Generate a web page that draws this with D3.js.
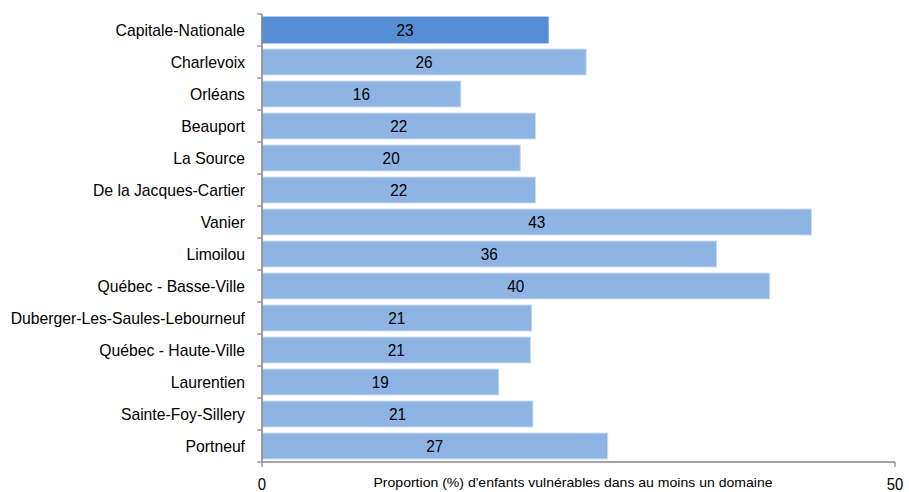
<!DOCTYPE html>
<html>
<head>
<meta charset="utf-8">
<script src="https://cdn.jsdelivr.net/npm/d3@7"></script>
<style>
  body { margin: 0; background: #fff; }
  text { font-family: "Liberation Sans", Arial, sans-serif; fill: #000; }
</style>
</head>
<body>
<svg id="chart" width="909" height="492"></svg>
<script>
// regions, bar values and printed labels
var regions = ["Capitale-Nationale", "Charlevoix", "Orléans", "Beauport", "La Source",
    "De la Jacques-Cartier", "Vanier", "Limoilou", "Québec - Basse-Ville",
    "Duberger-Les-Saules-Lebourneuf", "Québec - Haute-Ville", "Laurentien",
    "Sainte-Foy-Sillery", "Portneuf"];
var values = [22.6, 25.6, 15.7, 21.6, 20.4, 21.6, 43.4, 35.9, 40.1, 21.3, 21.2, 18.7, 21.4, 27.3];
var labels = ["23", "26", "16", "22", "20", "22", "43", "36", "40", "21", "21", "19", "21", "27"];
var xTicks = [0, 50];
var xTitle = "Proportion (%) d'enfants vulnérables dans au moins un domaine";

var svg = d3.select("#chart");
var mLeft = 262, mRight = 895, mTop = 14, mBottom = 462;

var x = d3.scaleLinear().domain([0, 50]).range([mLeft, mRight]);
var y = d3.scaleBand().domain(regions).range([mTop, mBottom]).paddingInner(0.19).paddingOuter(0.095);

// the source font is a bit condensed: squeeze text horizontally
function squeeze(sel, k) {
    sel.each(function(){
        var w = this.getComputedTextLength();
        d3.select(this).attr("textLength", w * k).attr("lengthAdjust", "spacingAndGlyphs");
    });
}

// bars
svg.selectAll("rect.bar").data(regions).enter()
    .append("rect").attr("class", "bar")
    .attr("x", x(0))
    .attr("y", function(d){ return y(d); })
    .attr("width", function(d, i){ return x(values[i]) - x(0); })
    .attr("height", y.bandwidth())
    .attr("fill", function(d, i){ return i == 0 ? "#558ed5" : "#8eb4e3"; })
    .attr("stroke", function(d, i){ return i == 0 ? "#558ed5" : "#c6daf2"; })
    .attr("stroke-width", 1);

// value labels
svg.selectAll("text.val").data(regions).enter()
    .append("text").attr("class", "val")
    .attr("x", function(d, i){ return (x(0) + x(values[i])) / 2; })
    .attr("y", function(d){ return y(d) + y.bandwidth() / 2; })
    .attr("dy", "0.36em")
    .attr("text-anchor", "middle")
    .attr("font-size", 16.5)
    .text(function(d, i){ return labels[i]; })
    .call(squeeze, 0.93);

// y axis: line + ticks at band boundaries
var step = (mBottom - mTop) / regions.length;
svg.append("line")
    .attr("x1", mLeft).attr("x2", mLeft).attr("y1", mTop).attr("y2", mBottom)
    .attr("stroke", "#868686").attr("stroke-width", 1.5);
svg.selectAll("line.ytick").data(d3.range(regions.length + 1)).enter()
    .append("line").attr("class", "ytick")
    .attr("x1", mLeft - 5).attr("x2", mLeft)
    .attr("y1", function(i){ return mTop + i * step; })
    .attr("y2", function(i){ return mTop + i * step; })
    .attr("stroke", "#868686").attr("stroke-width", 1.2);

svg.selectAll("text.cat").data(regions).enter()
    .append("text").attr("class", "cat")
    .attr("x", 245)
    .attr("y", function(d){ return y(d) + y.bandwidth() / 2; })
    .attr("dy", "0.36em")
    .attr("text-anchor", "end")
    .attr("font-size", 17)
    .text(function(d){ return d; })
    .call(squeeze, 0.925);

// x axis
svg.append("line")
    .attr("x1", mLeft).attr("x2", mRight).attr("y1", mBottom).attr("y2", mBottom)
    .attr("stroke", "#868686").attr("stroke-width", 1.5);
svg.selectAll("line.xtick").data(xTicks).enter()
    .append("line").attr("class", "xtick")
    .attr("x1", function(d){ return x(d); }).attr("x2", function(d){ return x(d); })
    .attr("y1", mBottom).attr("y2", mBottom + 5)
    .attr("stroke", "#868686").attr("stroke-width", 1.2);
svg.selectAll("text.xlab").data(xTicks).enter()
    .append("text").attr("class", "xlab")
    .attr("x", function(d){ return x(d); })
    .attr("y", 490)
    .attr("text-anchor", "middle")
    .attr("font-size", 16)
    .text(function(d){ return d; })
    .call(squeeze, 0.93);

svg.append("text")
    .attr("x", 573).attr("y", 487)
    .attr("text-anchor", "middle")
    .attr("font-size", 13)
    .attr("textLength", 399)
    .attr("lengthAdjust", "spacingAndGlyphs")
    .text(xTitle);
</script>
</body>
</html>
